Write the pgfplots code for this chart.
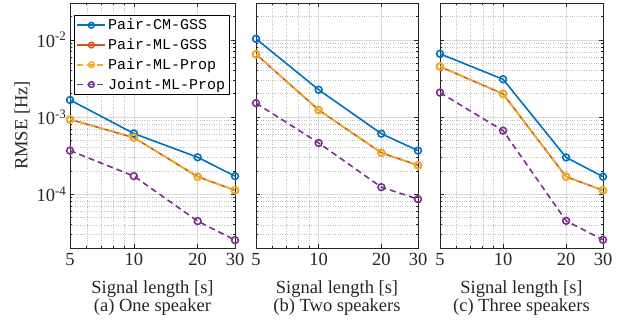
\documentclass[border=0pt]{standalone}
\usepackage{pgfplots}
\pgfplotsset{compat=1.18}
\usepackage{fontspec}
\setmainfont{Liberation Serif}
\newfontfamily\legfont{Liberation Mono}
\definecolor{c1}{rgb}{0,0.447,0.741}
\definecolor{c2}{rgb}{0.85,0.325,0.098}
\definecolor{c3}{rgb}{0.929,0.694,0.125}
\definecolor{c4}{rgb}{0.494,0.184,0.556}
\definecolor{axc}{rgb}{0.15,0.15,0.15}
\newcommand{\bigfnt}{\fontsize{18.5}{21.5}\selectfont}
\newcommand{\labfnt}{\fontsize{18.5}{17.5}\selectfont}
\begin{document}
\begin{tikzpicture}
\useasboundingbox (-70pt,-75pt) rectangle (555pt,248pt);
\begin{axis}[xmode=log, ymode=log,
  scale only axis, height=245pt, width=165pt,
  at={(0pt,0pt)}, anchor=south west,
  xmin=5, xmax=30, ymin=2e-5, ymax=3e-2,
  xtick={5,10,20,30}, xticklabels={5,10,20,30},
  minor xtick={6,7,8,9},
  ytick={1e-4,1e-3,1e-2},
  minor ytick={2e-5,3e-5,4e-5,5e-5,6e-5,7e-5,8e-5,9e-5,2e-4,3e-4,4e-4,5e-4,6e-4,7e-4,8e-4,9e-4,2e-3,3e-3,4e-3,5e-3,6e-3,7e-3,8e-3,9e-3,2e-2,3e-2},
  grid=both,
  major grid style={black!15, line width=0.5pt},
  minor grid style={black!25, dotted, line width=0.5pt},
  axis line style={axc, line width=0.7pt},
  tick style={axc, line width=0.6pt},
  major tick length=4pt, minor tick length=2.2pt,
  tick label style={font=\bigfnt, text=axc},
  xticklabel style={yshift=-2pt},
  label style={font=\bigfnt, text=axc},
  xlabel style={align=center, font=\labfnt, yshift=-8pt},
  yticklabels={10\textsuperscript{-4},10\textsuperscript{-3},10\textsuperscript{-2}},
  ylabel={RMSE [Hz]},
  xlabel={Signal length [s]\\(a) One speaker},
  legend style={font=\legfont\fontsize{15}{17}\selectfont, draw=black, line width=0.6pt, fill=white,
    at={(0.026,0.952)}, anchor=north west, inner xsep=2pt, inner ysep=2pt, row sep=3.4pt},
  legend cell align=left,
  legend image code/.code={\draw[mark repeat=2,mark phase=2, mark size=2.8pt] plot coordinates {(0pt,0pt) (14pt,0pt) (28pt,0pt)};}]
\addplot[c1, line width=1.6pt, mark=o, mark size=3.4pt] coordinates {(5,1.66e-3) (10,6.1e-4) (20,3.0e-4) (30,1.71e-4)};
\addplot[c2, line width=1.6pt, mark=o, mark size=3.4pt] coordinates {(5,9.3e-4) (10,5.4e-4) (20,1.68e-4) (30,1.12e-4)};
\addplot[c3, line width=1.6pt, mark=o, mark size=3.4pt, dash pattern=on 6pt off 4pt, mark options={solid}] coordinates {(5,9.3e-4) (10,5.4e-4) (20,1.68e-4) (30,1.12e-4)};
\addplot[c4, line width=1.6pt, mark=o, mark size=3.4pt, dash pattern=on 6pt off 4pt, mark options={solid}] coordinates {(5,3.66e-4) (10,1.71e-4) (20,4.46e-5) (30,2.53e-5)};
\legend{Pair-CM-GSS,Pair-ML-GSS,Pair-ML-Prop,Joint-ML-Prop}
\end{axis}
\begin{axis}[xmode=log, ymode=log,
  scale only axis, height=245pt, width=162pt,
  at={(186pt,0pt)}, anchor=south west,
  xmin=5, xmax=30, ymin=2e-5, ymax=3e-2,
  xtick={5,10,20,30}, xticklabels={5,10,20,30},
  minor xtick={6,7,8,9},
  ytick={1e-4,1e-3,1e-2},
  minor ytick={2e-5,3e-5,4e-5,5e-5,6e-5,7e-5,8e-5,9e-5,2e-4,3e-4,4e-4,5e-4,6e-4,7e-4,8e-4,9e-4,2e-3,3e-3,4e-3,5e-3,6e-3,7e-3,8e-3,9e-3,2e-2,3e-2},
  grid=both,
  major grid style={black!15, line width=0.5pt},
  minor grid style={black!25, dotted, line width=0.5pt},
  axis line style={axc, line width=0.7pt},
  tick style={axc, line width=0.6pt},
  major tick length=4pt, minor tick length=2.2pt,
  tick label style={font=\bigfnt, text=axc},
  xticklabel style={yshift=-2pt},
  label style={font=\bigfnt, text=axc},
  xlabel style={align=center, font=\labfnt, yshift=-8pt},
  yticklabels={},
  xlabel={Signal length [s]\\(b) Two speakers}]
\addplot[c1, line width=1.6pt, mark=o, mark size=3.4pt] coordinates {(5,1.03e-2) (10,2.25e-3) (20,6.07e-4) (30,3.66e-4)};
\addplot[c2, line width=1.6pt, mark=o, mark size=3.4pt] coordinates {(5,6.5e-3) (10,1.23e-3) (20,3.43e-4) (30,2.36e-4)};
\addplot[c3, line width=1.6pt, mark=o, mark size=3.4pt, dash pattern=on 6pt off 4pt, mark options={solid}] coordinates {(5,6.5e-3) (10,1.23e-3) (20,3.43e-4) (30,2.36e-4)};
\addplot[c4, line width=1.6pt, mark=o, mark size=3.4pt, dash pattern=on 6pt off 4pt, mark options={solid}] coordinates {(5,1.51e-3) (10,4.6e-4) (20,1.23e-4) (30,8.6e-5)};
\end{axis}
\begin{axis}[xmode=log, ymode=log,
  scale only axis, height=245pt, width=163pt,
  at={(370pt,0pt)}, anchor=south west,
  xmin=5, xmax=30, ymin=2e-5, ymax=3e-2,
  xtick={5,10,20,30}, xticklabels={5,10,20,30},
  minor xtick={6,7,8,9},
  ytick={1e-4,1e-3,1e-2},
  minor ytick={2e-5,3e-5,4e-5,5e-5,6e-5,7e-5,8e-5,9e-5,2e-4,3e-4,4e-4,5e-4,6e-4,7e-4,8e-4,9e-4,2e-3,3e-3,4e-3,5e-3,6e-3,7e-3,8e-3,9e-3,2e-2,3e-2},
  grid=both,
  major grid style={black!15, line width=0.5pt},
  minor grid style={black!25, dotted, line width=0.5pt},
  axis line style={axc, line width=0.7pt},
  tick style={axc, line width=0.6pt},
  major tick length=4pt, minor tick length=2.2pt,
  tick label style={font=\bigfnt, text=axc},
  xticklabel style={yshift=-2pt},
  label style={font=\bigfnt, text=axc},
  xlabel style={align=center, font=\labfnt, yshift=-8pt},
  yticklabels={},
  xlabel={Signal length [s]\\(c) Three speakers}]
\addplot[c1, line width=1.6pt, mark=o, mark size=3.4pt] coordinates {(5,6.58e-3) (10,3.08e-3) (20,2.99e-4) (30,1.68e-4)};
\addplot[c2, line width=1.6pt, mark=o, mark size=3.4pt] coordinates {(5,4.5e-3) (10,1.99e-3) (20,1.68e-4) (30,1.12e-4)};
\addplot[c3, line width=1.6pt, mark=o, mark size=3.4pt, dash pattern=on 6pt off 4pt, mark options={solid}] coordinates {(5,4.5e-3) (10,1.99e-3) (20,1.68e-4) (30,1.12e-4)};
\addplot[c4, line width=1.6pt, mark=o, mark size=3.4pt, dash pattern=on 6pt off 4pt, mark options={solid}] coordinates {(5,2.07e-3) (10,6.64e-4) (20,4.5e-5) (30,2.55e-5)};
\end{axis}
\end{tikzpicture}
\end{document}
